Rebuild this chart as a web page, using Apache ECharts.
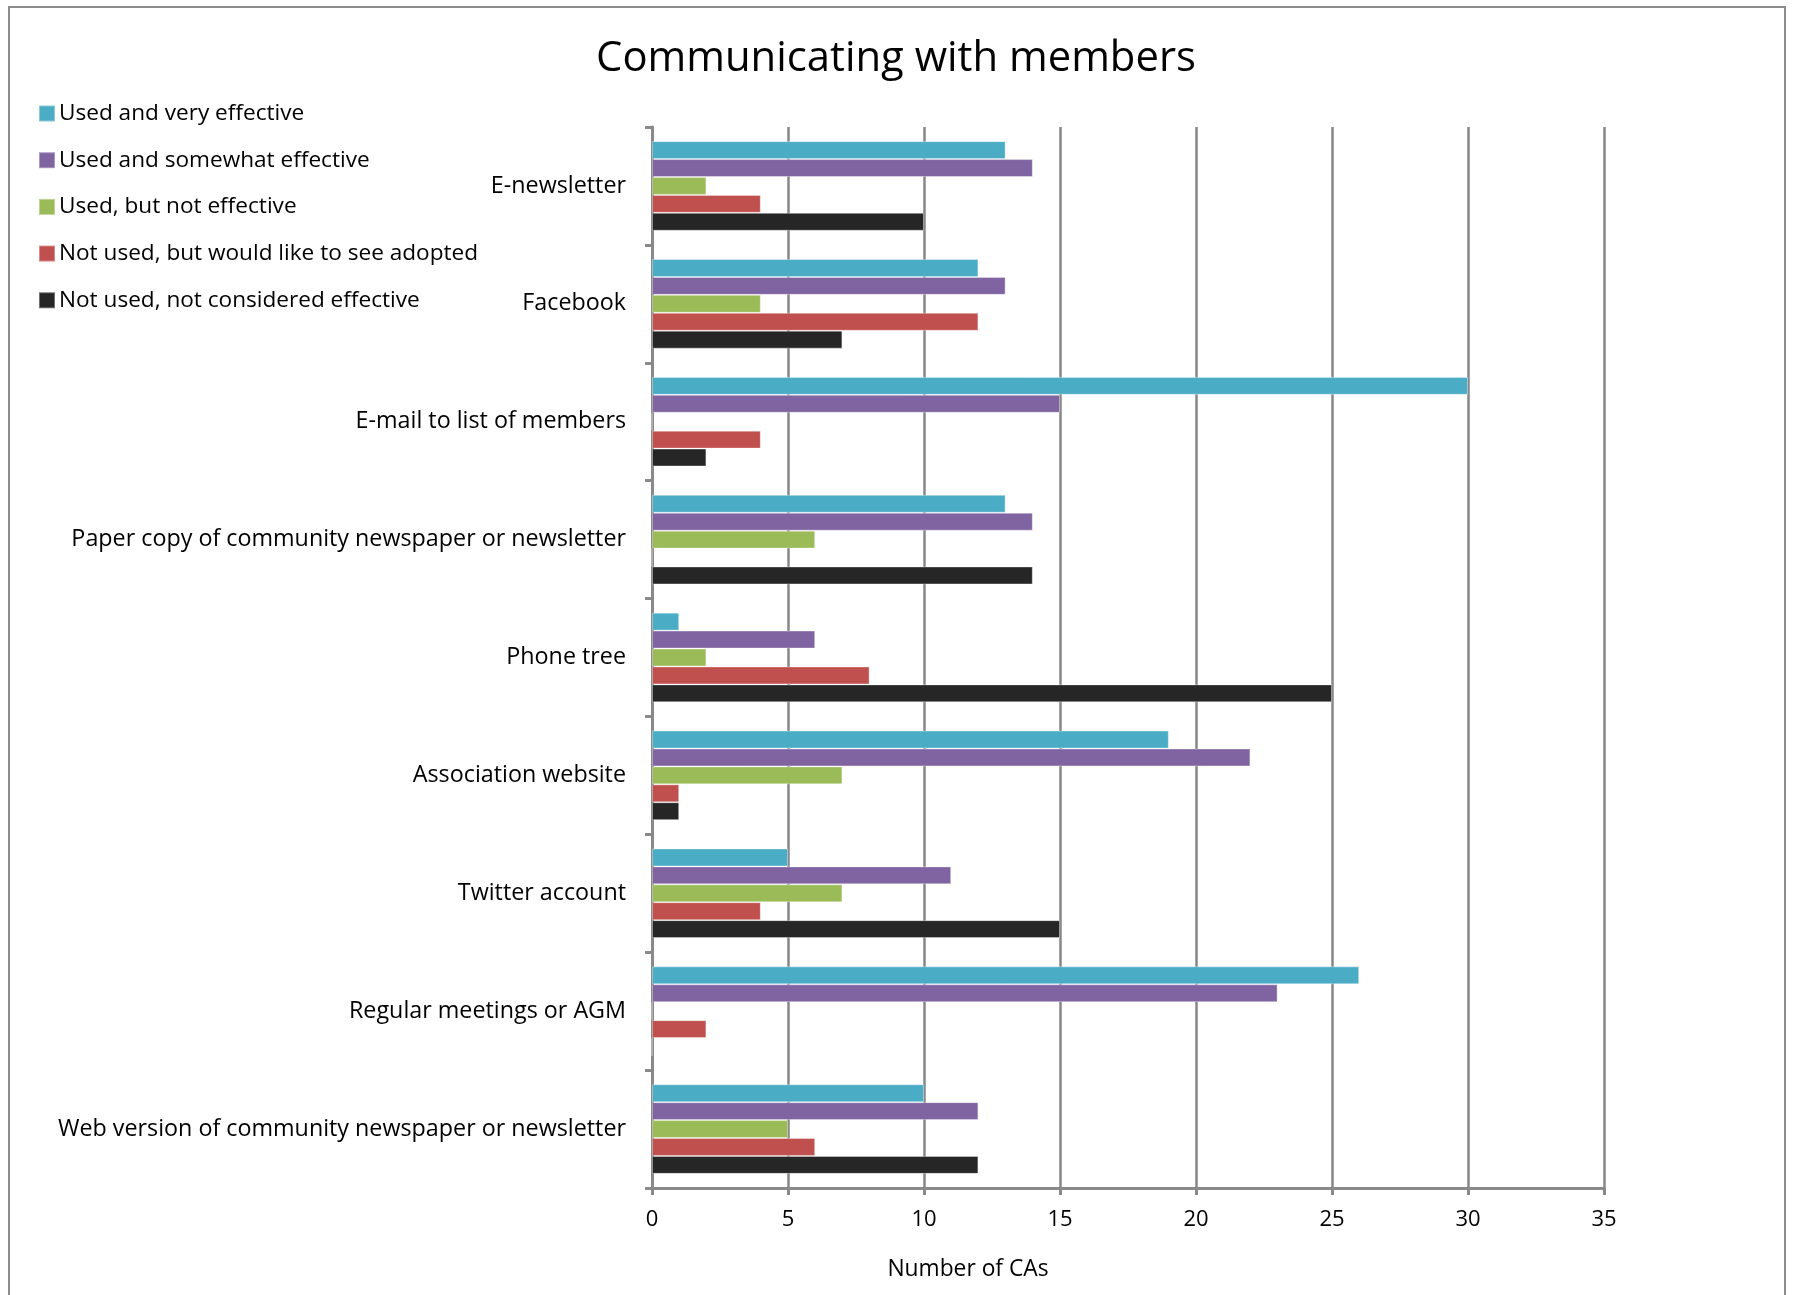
<!DOCTYPE html>
<html>
<head>
<meta charset="utf-8">
<script src="https://cdn.jsdelivr.net/npm/echarts@6/dist/echarts.min.js"></script>
<style>
html,body{margin:0;padding:0;background:#fff;}
#frame{position:absolute;left:8px;top:6px;width:1778px;height:1310px;border:2px solid #8c8c8c;box-sizing:border-box;}
#chart{position:absolute;left:0;top:0;width:1793px;height:1295px;}
</style>
</head>
<body>
<div id="frame"></div>
<div id="chart"></div>
<script>
var categories = [
  "E-newsletter",
  "Facebook",
  "E-mail to list of members",
  "Paper copy of community newspaper or newsletter",
  "Phone tree",
  "Association website",
  "Twitter account",
  "Regular meetings or AGM",
  "Web version of community newspaper or newsletter"
];
var usedVeryEffective     = [13, 12, 30, 13, 1, 19, 5, 26, 10];
var usedSomewhatEffective = [14, 13, 15, 14, 6, 22, 11, 23, 12];
var usedNotEffective      = [2, 4, 0, 6, 2, 7, 7, 0, 5];
var notUsedWouldLike      = [4, 12, 4, 0, 8, 1, 4, 2, 6];
var notUsedNotEffective   = [10, 7, 2, 14, 25, 1, 15, 0, 12];
var seriesNames = [
  "Used and very effective",
  "Used and somewhat effective",
  "Used, but not effective",
  "Not used, but would like to see adopted",
  "Not used, not considered effective"
];
var xTicks = [0, 5, 10, 15, 20, 25, 30, 35];
var titleText = "Communicating with members";
var xAxisTitle = "Number of CAs";

var colors = ["#4BACC6", "#8064A2", "#9BBB59", "#C0504D", "#262626"];
var seriesData = [usedVeryEffective, usedSomewhatEffective, usedNotEffective, notUsedWouldLike, notUsedNotEffective];
var FONT = "Open Sans";

var chart = echarts.init(document.getElementById('chart'), null, {renderer: 'canvas'});
var option = {
  animation: false,
  color: colors,
  title: {
    text: titleText,
    left: 891, textAlign: 'center',
    top: 33,
    textStyle: {fontFamily: FONT, fontSize: 41.8, fontWeight: 'normal', color: '#000'}
  },
  legend: {
    orient: 'vertical',
    left: 38, top: 102, padding: 0,
    icon: 'rect',
    itemWidth: 16, itemHeight: 16,
    itemGap: 23.7,
    data: seriesNames,
    textStyle: {fontFamily: FONT, fontSize: 22.6, lineHeight: 22, color: '#000', padding: [0,0,0,-1]}
  },
  grid: {left: 652, right: 189, top: 127, bottom: 107, containLabel: false},
  xAxis: {
    type: 'value', min: xTicks[0], max: xTicks[xTicks.length-1], interval: 5,
    axisLine: {show: true, lineStyle: {color: '#898989', width: 3}},
    axisTick: {show: true, length: 7, lineStyle: {color: '#898989', width: 3}},
    splitLine: {show: true, lineStyle: {color: '#878787', width: 2.5}},
    axisLabel: {fontFamily: FONT, fontSize: 22, color: '#000', margin: 21}
  },
  yAxis: {
    type: 'category', data: categories, inverse: true,
    axisLine: {show: true, lineStyle: {color: '#898989', width: 3}},
    axisTick: {show: true, length: 7, lineStyle: {color: '#898989', width: 3}},
    axisLabel: {fontFamily: FONT, fontSize: 23.3, color: '#000', margin: 26}
  },
  graphic: [{
    type: 'text', x: 968, y: 1270,
    style: {text: xAxisTitle, font: '22.8px ' + FONT, fill: '#000', align: 'center', verticalAlign: 'middle'}
  }],
  series: seriesNames.map(function (n, i) {
    return {
      name: n, type: 'bar', data: seriesData[i],
      barGap: '0%', barCategoryGap: '24%',
      itemStyle: {color: colors[i], borderColor: 'rgba(255,255,255,0.35)', borderWidth: 1}
    };
  })
};
chart.setOption(option);
</script>
</body>
</html>
